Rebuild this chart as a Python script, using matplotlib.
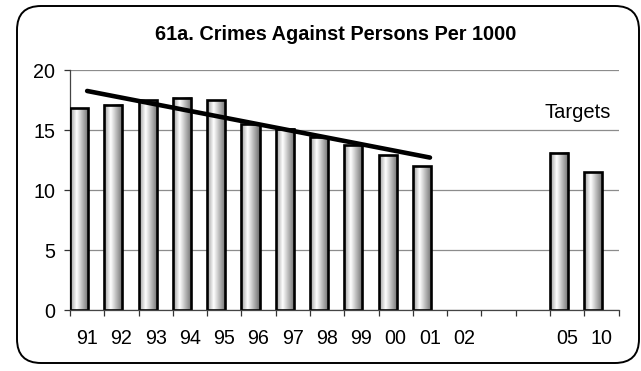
import numpy as np
import matplotlib
matplotlib.use("Agg")
import matplotlib.pyplot as plt
from matplotlib.patches import FancyBboxPatch, Rectangle
from matplotlib.transforms import IdentityTransform

plt.rcParams['font.family'] = ['Liberation Sans', 'DejaVu Sans']

# ---- data ----
categories = ['91', '92', '93', '94', '95', '96', '97', '98', '99', '00', '01',
              '02', '', '', '05', '10']
values = [16.8, 17.1, 17.5, 17.7, 17.5, 15.5, 15.1, 14.4, 13.75, 12.9, 12.0,
          np.nan, np.nan, np.nan, 13.1, 11.5]
trend_span = 11  # trendline fitted over 91..01
title = '61a. Crimes Against Persons Per 1000'
yticks = [0, 5, 10, 15, 20]

W, H = 641, 371
fig = plt.figure(figsize=(W / 100, H / 100), dpi=100)
fig.patch.set_facecolor('white')
ax = fig.add_axes([70 / W, 1 - 310 / H, (618.5 - 70) / W, 240 / H])

n = len(categories)
x = np.arange(n)
bar_w = 0.53

# gradient profile for bars
pos = np.linspace(0, 1, 64)
gray = np.interp(pos, [0.0, 0.35, 1.0], [0.6, 1.0, 0.42])
grad = np.tile(gray, (2, 1))

for i, v in enumerate(values):
    if np.isnan(v):
        continue
    left = i - 0.5
    ax.imshow(grad, cmap='gray', vmin=0, vmax=1, aspect='auto',
              extent=[left, left + bar_w, 0, v], interpolation='bilinear',
              zorder=2)
    ax.add_patch(Rectangle((left, 0), bar_w, v, facecolor='none',
                           edgecolor='black', linewidth=1.9, zorder=3))

# linear trendline over actual years
xt = x[:trend_span]
yt = np.array(values[:trend_span])
m, b = np.polyfit(xt, yt, 1)
ax.plot([xt[0], xt[-1]], [m * xt[0] + b, m * xt[-1] + b], color='black',
        linewidth=3.3, solid_capstyle='round', zorder=4)

fs = 14.2
ax.set_xlim(-0.5, n - 0.5)
ax.set_ylim(0, 20)
ax.set_yticks(yticks)
ax.set_yticklabels([str(t) for t in yticks])
ax.set_xticks(x)
ax.set_xticklabels(categories)
ax.set_xticks(np.arange(n + 1) - 0.5, minor=True)
ax.tick_params(axis='x', which='major', length=0, pad=14, labelsize=fs)
ax.tick_params(axis='x', which='minor', length=4.5, direction='out',
               color='#333333', width=0.9)
ax.tick_params(axis='y', length=4.5, direction='out', color='#333333',
               width=0.9, pad=6, labelsize=fs)
ax.yaxis.grid(True, color='#8c8c8c', linewidth=0.9)
ax.set_axisbelow(True)
for s in ['top', 'right']:
    ax.spines[s].set_visible(False)
for s in ['left', 'bottom']:
    ax.spines[s].set_color('#444444')
    ax.spines[s].set_linewidth(0.9)
ax.spines['bottom'].set_zorder(5)
ax.set_facecolor('none')

fig.text(336 / W, 1 - 35 / H, title, ha='center', va='center',
         fontsize=14.3, fontweight='bold')
fig.text(578 / W, 1 - 113 / H, 'Targets', ha='center', va='center',
         fontsize=14.5)

# rounded outer border (pixel coords)
border = FancyBboxPatch((17, H - 363), 622, 357,
                        boxstyle='round,pad=0,rounding_size=24',
                        transform=IdentityTransform(), facecolor='none',
                        edgecolor='black', linewidth=1.4)
fig.patches.append(border)

fig.savefig('out.png', dpi=100, facecolor='white')
